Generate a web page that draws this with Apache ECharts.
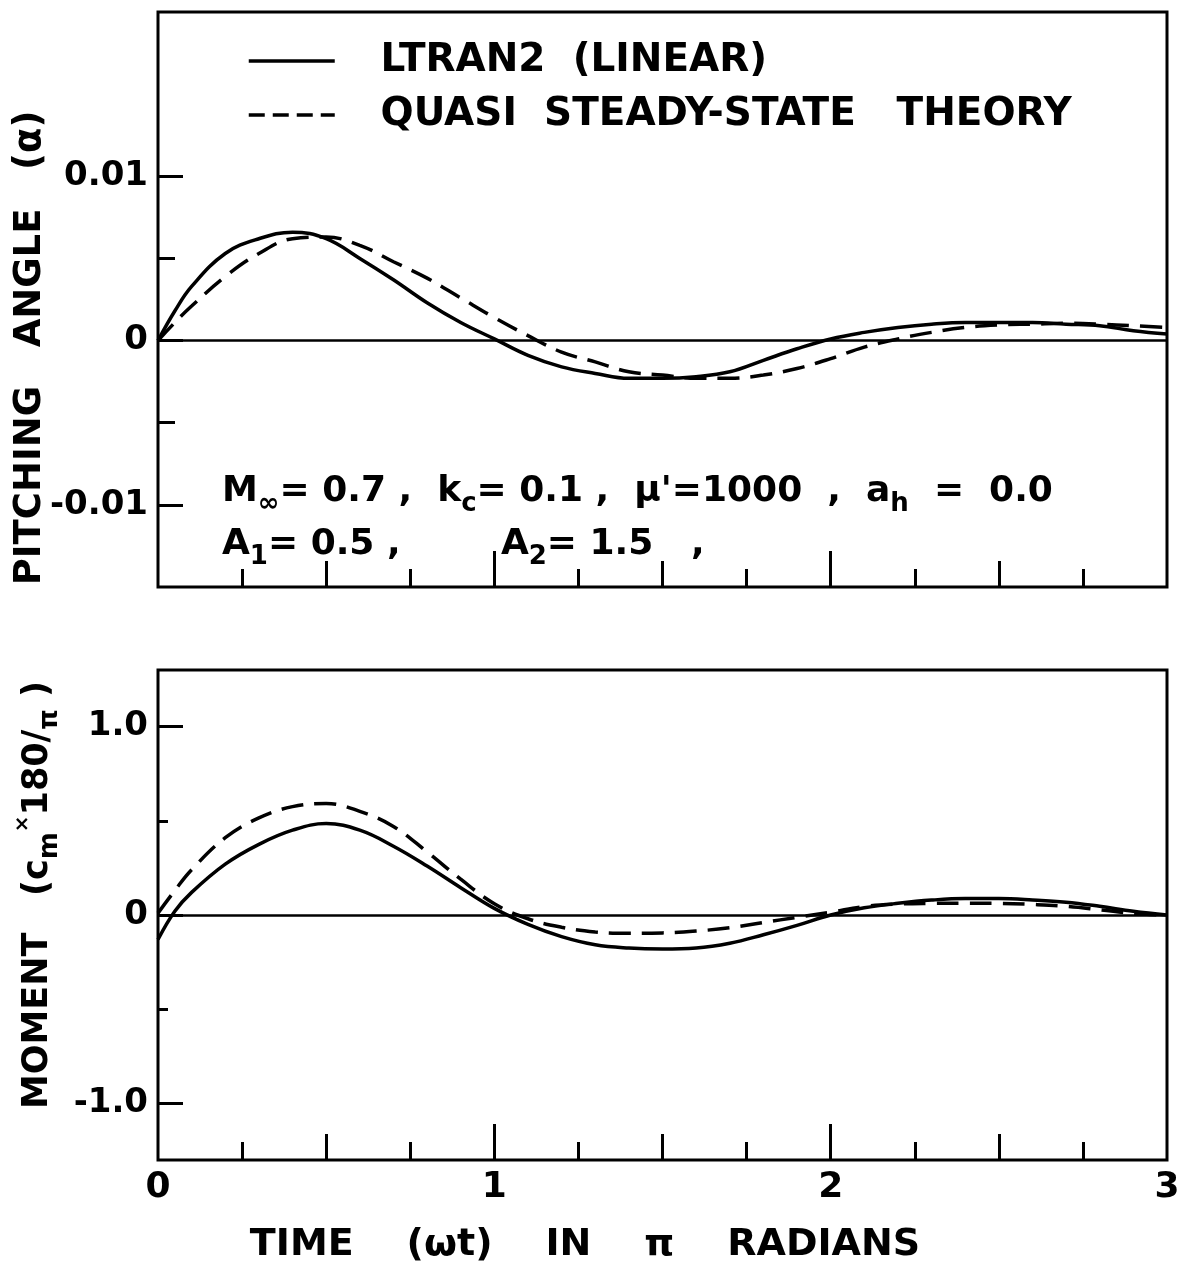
<!DOCTYPE html>
<html>
<head>
<meta charset="utf-8">
<script src="https://cdn.jsdelivr.net/npm/echarts@6/dist/echarts.min.js"></script>
<style>
  html, body { margin: 0; padding: 0; background: #fff; }
  #chart { width: 1178px; height: 1265px; }
</style>
</head>
<body>
<div id="chart"></div>
<script>
// ---- data ----
const TIME = [0, 0.05, 0.1, 0.2, 0.3, 0.4, 0.5, 0.6, 0.7, 0.8, 0.9, 1.0,
  1.1, 1.2, 1.3, 1.4, 1.5, 1.6, 1.7, 1.8, 1.9, 2.0,
  2.1, 2.2, 2.3, 2.4, 2.5, 2.6, 2.7, 2.8, 2.9, 3.0];

const ALPHA_LTRAN2 = [0, 0.0018, 0.0033, 0.0053, 0.0062, 0.0066, 0.0062, 0.0050, 0.0037, 0.0023, 0.0011, 0.0001,
  -0.0009, -0.0016, -0.0020, -0.0023, -0.0023, -0.0022, -0.0019, -0.0012, -0.0005, 0.0001,
  0.0005, 0.0008, 0.0010, 0.0011, 0.0011, 0.0011, 0.0010, 0.0009, 0.0006, 0.0004];

const ALPHA_QUASI = [0, 0.0011, 0.0021, 0.0039, 0.0053, 0.0062, 0.0063, 0.0058, 0.0048, 0.0038, 0.0026, 0.0014,
  0.0003, -0.0007, -0.0013, -0.0019, -0.0021, -0.0023, -0.0023, -0.0021, -0.0017, -0.0011,
  -0.0004, 0.0001, 0.0005, 0.0008, 0.00095, 0.0010, 0.00105, 0.0010, 0.0009, 0.0008];

const MOMENT_LTRAN2 = [-0.13, 0.02, 0.12, 0.27, 0.375, 0.45, 0.485, 0.45, 0.365, 0.26, 0.145, 0.035,
  -0.05, -0.115, -0.158, -0.175, -0.18, -0.175, -0.15, -0.105, -0.055, 0.0,
  0.038, 0.062, 0.079, 0.087, 0.087, 0.08, 0.068, 0.046, 0.02, 0.0];

const MOMENT_QUASI = [0.01, 0.13, 0.24, 0.41, 0.515, 0.575, 0.592, 0.55, 0.47, 0.335, 0.19, 0.06,
  -0.02, -0.065, -0.09, -0.097, -0.095, -0.085, -0.068, -0.04, -0.012, 0.015,
  0.045, 0.058, 0.062, 0.063, 0.062, 0.056, 0.046, 0.028, 0.008, 0.0];

const SERIES_NAMES = ['LTRAN2  (LINEAR)', 'QUASI  STEADY-STATE   THEORY'];

const X_QUARTER_TICKS = [0.25, 0.75, 1.25, 1.75, 2.25, 2.75];
const X_HALF_TICKS = [0.5, 1.5, 2.5];
const X_UNIT_TICKS = [1, 2];
const X_LABEL_VALUES = [0, 1, 2, 3];
const X_LABELS = ['0', '1', '2', '3'];

const ALPHA_MAJOR_TICKS = [-0.01, 0, 0.01];
const ALPHA_LABELS = ['-0.01', '0', '0.01'];
const ALPHA_MINOR_TICKS = [-0.005, 0.005];

const MOMENT_MAJOR_TICKS = [-1, 0, 1];
const MOMENT_LABELS = ['-1.0', '0', '1.0'];
const MOMENT_MINOR_TICKS = [-0.5, 0.5];

// ---- chart ----
const FONT = '"DejaVu Sans", "Liberation Sans", sans-serif';
const BLACK = '#000';

function pairs(xs, ys) { return xs.map((x, i) => [x, ys[i]]); }
function labelFor(values, labels) {
  return v => {
    for (let i = 0; i < values.length; i++) if (Math.abs(values[i] - v) < 1e-9) return labels[i];
    return '';
  };
}

function xAxesFor(gridIndex, withLabels) {
  const base = {
    type: 'value', gridIndex, min: 0, max: 3, position: 'bottom',
    axisLine: { show: false, onZero: false },
    splitLine: { show: false }
  };
  return [
    Object.assign({}, base, {
      axisTick: { show: true, inside: true, length: 18, customValues: X_QUARTER_TICKS, lineStyle: { width: 3, color: BLACK } },
      axisLabel: { show: false }
    }),
    Object.assign({}, base, {
      axisTick: { show: true, inside: true, length: 26, customValues: X_HALF_TICKS, lineStyle: { width: 3, color: BLACK } },
      axisLabel: { show: false }
    }),
    Object.assign({}, base, {
      axisTick: { show: true, inside: true, length: 36, customValues: X_UNIT_TICKS, lineStyle: { width: 3, color: BLACK } },
      axisLabel: withLabels ? {
        show: true, customValues: X_LABEL_VALUES, formatter: labelFor(X_LABEL_VALUES, X_LABELS),
        fontSize: 36, fontWeight: 'bold', fontFamily: FONT, color: BLACK, margin: 10
      } : { show: false }
    })
  ];
}

function yAxesFor(gridIndex, min, max, major, labels, minor, minorLen) {
  const base = {
    type: 'value', gridIndex, min, max, position: 'left',
    axisLine: { show: false, onZero: false },
    splitLine: { show: false }
  };
  return [
    Object.assign({}, base, {
      axisTick: { show: true, inside: true, length: 25, customValues: major, lineStyle: { width: 3, color: BLACK } },
      axisLabel: {
        show: true, customValues: major, formatter: labelFor(major, labels),
        fontSize: 34, fontWeight: 'bold', fontFamily: FONT, color: BLACK, margin: 10
      }
    }),
    Object.assign({}, base, {
      axisTick: { show: true, inside: true, length: minorLen, customValues: minor, lineStyle: { width: 3, color: BLACK } },
      axisLabel: { show: false }
    })
  ];
}

function zeroLine() {
  return {
    silent: true, symbol: 'none', label: { show: false },
    lineStyle: { color: BLACK, width: 2.5, type: 'solid' },
    data: [{ yAxis: 0 }]
  };
}

const solidStyle = { color: BLACK, width: 3.5, type: 'solid' };
const dashStyle = { color: BLACK, width: 3.5, type: [22, 11] };

const option = {
  backgroundColor: '#fff',
  animation: false,
  grid: [
    { left: 158, top: 12, width: 1009, height: 575, show: true, borderColor: BLACK, borderWidth: 3,
      backgroundColor: 'transparent', outerBoundsMode: 'none', containLabel: false },
    { left: 158, top: 670, width: 1009, height: 490, show: true, borderColor: BLACK, borderWidth: 3,
      backgroundColor: 'transparent', outerBoundsMode: 'none', containLabel: false }
  ],
  xAxis: [].concat(xAxesFor(0, false), xAxesFor(1, true)),
  yAxis: [].concat(
    yAxesFor(0, -0.015, 0.02, ALPHA_MAJOR_TICKS, ALPHA_LABELS, ALPHA_MINOR_TICKS, 17),
    yAxesFor(1, -1.3, 1.3, MOMENT_MAJOR_TICKS, MOMENT_LABELS, MOMENT_MINOR_TICKS, 10)
  ),
  legend: {
    orient: 'vertical', left: 242, top: 36, itemWidth: 86, itemHeight: 24, itemGap: 14,
    data: [
      { name: SERIES_NAMES[0], lineStyle: { width: 3.5, type: 'solid', color: BLACK } },
      { name: SERIES_NAMES[1], lineStyle: { width: 3.5, type: [16, 8], color: BLACK } }
    ],
    formatter: name => '   ' + name,
    itemStyle: { color: 'transparent', borderWidth: 0, opacity: 0 },
    textStyle: { fontSize: 39, fontWeight: 'bold', fontFamily: FONT, color: BLACK, lineHeight: 40 },
    selectedMode: false
  },
  series: [
    { name: SERIES_NAMES[0], type: 'line', xAxisIndex: 0, yAxisIndex: 0, data: pairs(TIME, ALPHA_LTRAN2),
      showSymbol: false, symbol: 'none', smooth: 0.4, lineStyle: solidStyle, itemStyle: { color: BLACK }, markLine: zeroLine(), z: 3 },
    { name: SERIES_NAMES[1], type: 'line', xAxisIndex: 0, yAxisIndex: 0, data: pairs(TIME, ALPHA_QUASI),
      showSymbol: false, symbol: 'none', smooth: 0.4, lineStyle: dashStyle, itemStyle: { color: BLACK }, z: 3 },
    { name: SERIES_NAMES[0], type: 'line', xAxisIndex: 3, yAxisIndex: 2, data: pairs(TIME, MOMENT_LTRAN2),
      showSymbol: false, symbol: 'none', smooth: 0.4, lineStyle: solidStyle, itemStyle: { color: BLACK }, markLine: zeroLine(), z: 3 },
    { name: SERIES_NAMES[1], type: 'line', xAxisIndex: 3, yAxisIndex: 2, data: pairs(TIME, MOMENT_QUASI),
      showSymbol: false, symbol: 'none', smooth: 0.4, lineStyle: dashStyle, itemStyle: { color: BLACK }, z: 3 }
  ],
  graphic: [
    { type: 'text', x: 30, y: 348, rotation: Math.PI / 2,
      style: { text: 'PITCHING   ANGLE   (α)', fontSize: 37, fontWeight: 'bold', fontFamily: FONT, fill: BLACK, align: 'center', verticalAlign: 'middle' } },
    { type: 'text', x: 38, y: 895, rotation: Math.PI / 2,
      style: {
        text: 'MOMENT   (c{sub|m}{sup|×}180/{sub|π} )', fontSize: 35, fontWeight: 'bold', fontFamily: FONT, fill: BLACK,
        align: 'center', verticalAlign: 'middle', lineHeight: 50,
        rich: {
          sub: { fontSize: 26, fontWeight: 'bold', fontFamily: FONT, fill: BLACK, verticalAlign: 'bottom', lineHeight: 26 },
          sup: { fontSize: 20, fontWeight: 'bold', fontFamily: FONT, fill: BLACK, verticalAlign: 'top', lineHeight: 20 }
        }
      } },
    { type: 'text', x: 585, y: 1245,
      style: { text: 'TIME    (ωt)    IN    π    RADIANS', fontSize: 38, fontWeight: 'bold', fontFamily: FONT, fill: BLACK, align: 'center', verticalAlign: 'middle' } },
    { type: 'text', x: 222, y: 492,
      style: {
        text: 'M{sub|∞}= 0.7 ,  k{sub|c}= 0.1 ,  μ\'=1000  ,  a{sub|h}  =  0.0', fontSize: 36, fontWeight: 'bold', fontFamily: FONT, fill: BLACK,
        align: 'left', verticalAlign: 'middle', lineHeight: 50,
        rich: { sub: { fontSize: 26, fontWeight: 'bold', fontFamily: FONT, fill: BLACK, verticalAlign: 'bottom', lineHeight: 26 } }
      } },
    { type: 'text', x: 222, y: 545,
      style: {
        text: 'A{sub|1}= 0.5 ,        A{sub|2}= 1.5   ,', fontSize: 36, fontWeight: 'bold', fontFamily: FONT, fill: BLACK,
        align: 'left', verticalAlign: 'middle', lineHeight: 50,
        rich: { sub: { fontSize: 26, fontWeight: 'bold', fontFamily: FONT, fill: BLACK, verticalAlign: 'bottom', lineHeight: 26 } }
      } }
  ]
};

const chart = echarts.init(document.getElementById('chart'), null, { renderer: 'canvas' });
chart.setOption(option);
</script>
</body>
</html>
